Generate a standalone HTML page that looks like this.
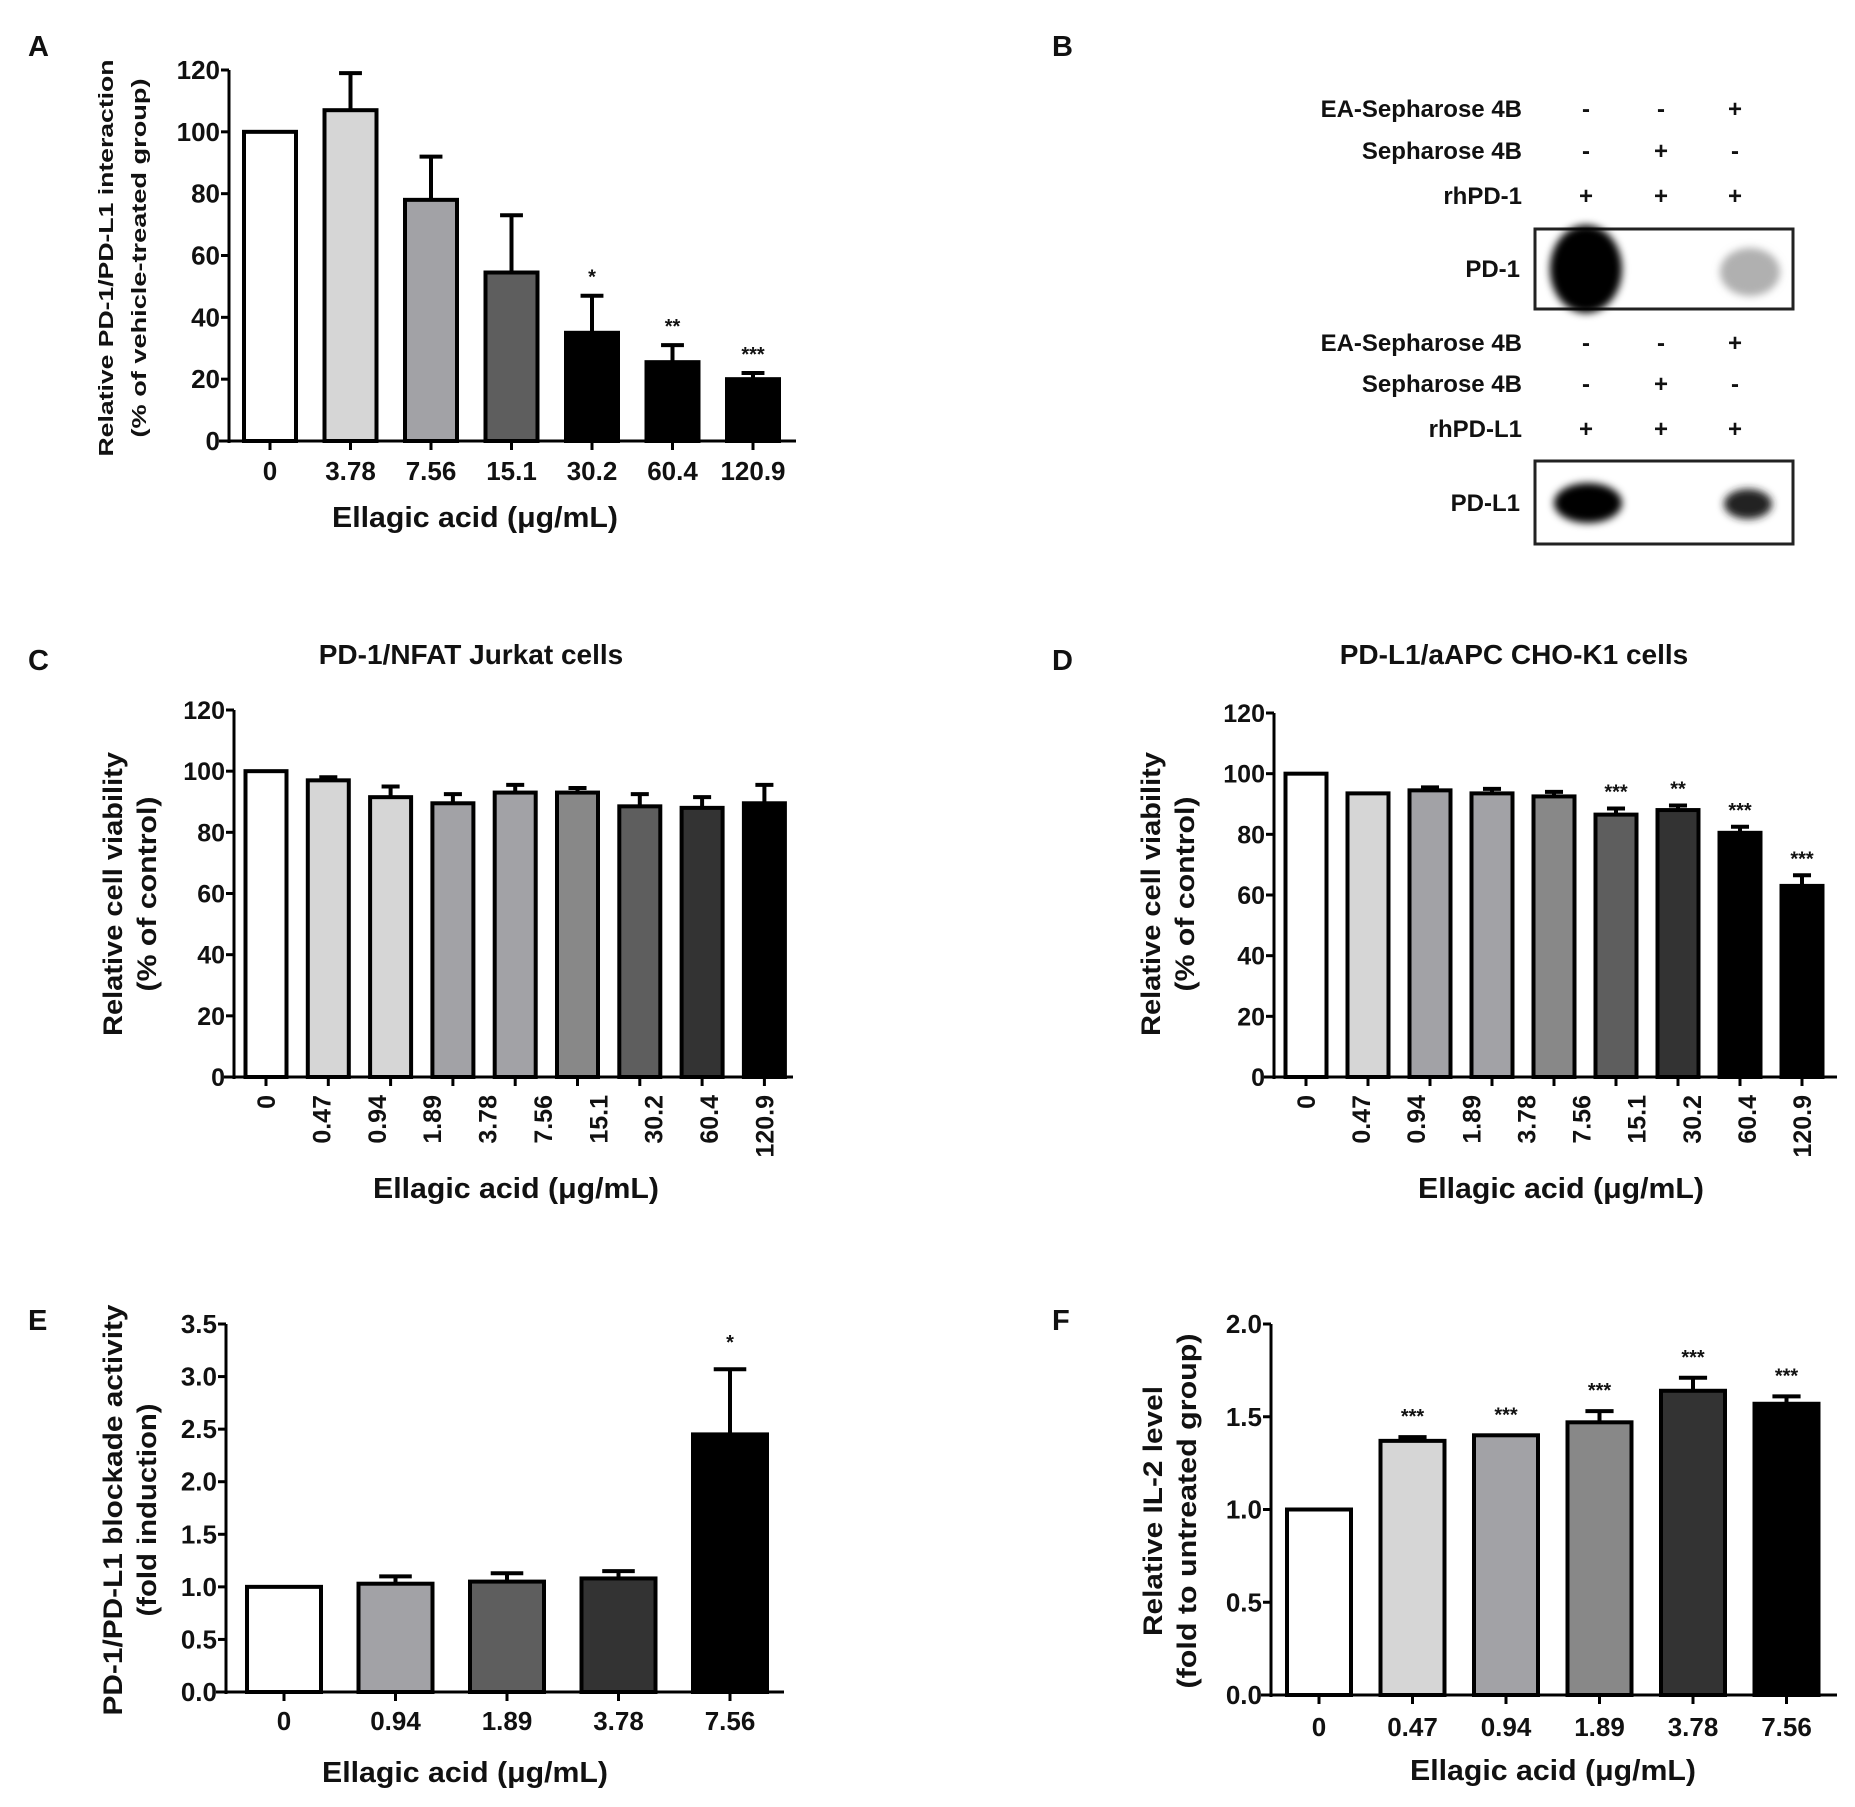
<!DOCTYPE html>
<html><head><meta charset="utf-8"><style>
html,body{margin:0;padding:0;background:#fff}
svg{display:block}
text{font-family:"Liberation Sans",Arial,sans-serif;font-weight:bold;fill:#111}
</style></head><body>
<svg id="fig" width="1855" height="1807" viewBox="0 0 1855 1807" xmlns="http://www.w3.org/2000/svg">
<defs><filter id="blur" x="-30%" y="-30%" width="160%" height="160%"><feGaussianBlur stdDeviation="4"/></filter></defs>
<g font-size="29">
<text x="28" y="56">A</text>
<text x="1052" y="56">B</text>
<text x="28" y="670">C</text>
<text x="1052" y="670">D</text>
<text x="28" y="1330">E</text>
<text x="1052" y="1330">F</text>
</g>
<g id="blotB" font-size="24">
<g text-anchor="end">
<text x="1522" y="117">EA-Sepharose 4B</text>
<text x="1522" y="159">Sepharose 4B</text>
<text x="1522" y="204">rhPD-1</text>
<text x="1520" y="277">PD-1</text>
<text x="1522" y="351">EA-Sepharose 4B</text>
<text x="1522" y="392">Sepharose 4B</text>
<text x="1522" y="437">rhPD-L1</text>
<text x="1520" y="511">PD-L1</text>
</g>
<g text-anchor="middle" font-size="24">
<text x="1586" y="117">-</text><text x="1661" y="117">-</text><text x="1735" y="117">+</text>
<text x="1586" y="159">-</text><text x="1661" y="159">+</text><text x="1735" y="159">-</text>
<text x="1586" y="204">+</text><text x="1661" y="204">+</text><text x="1735" y="204">+</text>
<text x="1586" y="351">-</text><text x="1661" y="351">-</text><text x="1735" y="351">+</text>
<text x="1586" y="392">-</text><text x="1661" y="392">+</text><text x="1735" y="392">-</text>
<text x="1586" y="437">+</text><text x="1661" y="437">+</text><text x="1735" y="437">+</text>
</g>
<rect x="1535" y="229" width="258" height="80" fill="#fff" stroke="#222" stroke-width="3"/>
<ellipse cx="1586" cy="269" rx="36" ry="44" fill="#000" filter="url(#blur)"/>
<ellipse cx="1750" cy="272" rx="30" ry="24" fill="#b0b0b0" filter="url(#blur)"/>
<rect x="1535" y="461" width="258" height="83" fill="#fff" stroke="#222" stroke-width="3"/>
<ellipse cx="1588" cy="503" rx="34" ry="20" fill="#000" filter="url(#blur)"/>
<ellipse cx="1748" cy="504" rx="24" ry="15" fill="#222" filter="url(#blur)"/>
</g>
</svg>
<script>
// Panel A data
const aCats=["0","3.78","7.56","15.1","30.2","60.4","120.9"];
const aVals=[100,107,78,54.5,35,25.5,20];
const aErr=[0,12,14,18.5,12,5.5,2];
const aSig=["","","","","*","**","***"];
// Panel C data
const cCats=["0","0.47","0.94","1.89","3.78","7.56","15.1","30.2","60.4","120.9"];
const cVals=[100,97,91.5,89.5,93,93,88.5,88,89.5];
const cErr=[0,1,3.5,3,2.5,1.5,4,3.5,6];
// Panel D data
const dCats=["0","0.47","0.94","1.89","3.78","7.56","15.1","30.2","60.4","120.9"];
const dVals=[100,93.5,94.5,93.5,92.5,86.5,88,80.5,63];
const dErr=[0,0,1,1.5,1.5,2,1.5,2,3.5];
const dSig=["","","","","","***","**","***","***"];
// Panel E data
const eCats=["0","0.94","1.89","3.78","7.56"];
const eVals=[1.0,1.03,1.05,1.08,2.45];
const eErr=[0,0.07,0.08,0.07,0.62];
const eSig=["","","","","*"];
// Panel F data
const fCats=["0","0.47","0.94","1.89","3.78","7.56"];
const fVals=[1.0,1.37,1.40,1.47,1.64,1.57];
const fErr=[0,0.02,0,0.06,0.07,0.04];
const fSig=["","***","***","***","***","***"];
const yTicksA=[0,20,40,60,80,100,120];
const yTicksCD=[0,20,40,60,80,100,120];
const yTicksE=["0.0","0.5","1.0","1.5","2.0","2.5","3.0","3.5"];
const yTicksF=["0.0","0.5","1.0","1.5","2.0"];

const NS="http://www.w3.org/2000/svg";
const svg=document.getElementById('fig');
function mk(tag,attrs,parent,txt){const e=document.createElementNS(NS,tag);for(const k in attrs)e.setAttribute(k,attrs[k]);if(txt!==undefined)e.textContent=txt;(parent||svg).appendChild(e);return e;}

function chart(o){
  const g=mk('g',{});
  
  
  const ymax=o.ymax;
  const Y=v=>o.y0-(v/ymax)*(o.y0-o.yTop);
  const X=i=>o.firstCx+i*o.pitch;
  const n=o.vals.length;
  o.vals.forEach((v,i)=>{
    const cx=X(i),bw=o.bw;
    const err=o.err[i];
    if(err>0){
      const eb=mk('line',{x1:cx,x2:cx,y1:Y(v),y2:Y(v+err),stroke:'#000','stroke-width':4},g);
      
      
      const cap=mk('line',{x1:cx-bw*0.22,x2:cx+bw*0.22,y1:Y(v+err),y2:Y(v+err),stroke:'#000','stroke-width':4},g);
      
      
    }
    const r=mk('rect',{x:cx-bw/2,y:Y(v),width:bw,height:o.y0-Y(v),fill:o.colors[i],stroke:'#000','stroke-width':4},g);
    
    
    if(o.sig&&o.sig[i]){
      const s=mk('text',{x:cx,y:Y(v+err)-o.sigGap,'text-anchor':'middle','font-size':20},g,o.sig[i]);
      
      
    }
    mk('line',{x1:cx,x2:cx,y1:o.y0,y2:o.y0+9,stroke:'#000','stroke-width':3},g);
  });
  const ya=mk('line',{x1:o.ax,x2:o.ax,y1:o.y0+2,y2:o.yTop,stroke:'#000','stroke-width':3},g);
  
  
  const xa=mk('line',{x1:o.ax-10,x2:o.axEnd,y1:o.y0,y2:o.y0,stroke:'#000','stroke-width':3},g);
  
  
  o.ticks.forEach(t=>{
    const v=parseFloat(t);
    mk('line',{x1:o.ax-8,x2:o.ax,y1:Y(v),y2:Y(v),stroke:'#000','stroke-width':3},g);
    const tl=mk('text',{x:o.ax-9,y:Y(v)+9,'text-anchor':'end','font-size':o.tfs},g,String(t));
    
    
  });
  const lp=o.cats.length>1?(n-1)*o.pitch/(o.cats.length-1):0;
  o.cats.forEach((c,i)=>{
    const cx=o.firstCx+i*lp;
    let tl;
    if(o.rot){
      tl=mk('text',{x:cx+9,y:o.y0+18,'text-anchor':'end','font-size':o.tfs,transform:`rotate(-90 ${cx+9} ${o.y0+18})`},g,c);
    } else {
      tl=mk('text',{x:cx,y:o.tickY,'text-anchor':'middle','font-size':o.tfs},g,c);
    }
    
    
  });
  const xt=mk('text',{x:o.xtX,y:o.xtY,'text-anchor':'middle','font-size':29,textLength:286,lengthAdjust:'spacingAndGlyphs'},g,'Ellagic acid (μg/mL)');
  
  
  o.ytitle.forEach((line,k)=>{
    const x=o.ytX[k],y=o.ytY;
    const t=mk('text',{x:x,y:y,'text-anchor':'middle','font-size':o.yfs,textLength:o.ytL[k],lengthAdjust:'spacingAndGlyphs',transform:`rotate(-90 ${x} ${y})`},g,line);
    
    
  });
  if(o.title){
    const t=mk('text',{x:o.title[1],y:o.title[2],'text-anchor':'middle','font-size':28},g,o.title[0]);
    
    
  }
}
const W='#ffffff',L1='#d6d6d6',L2='#a2a2a6',M='#888888',D1='#5e5e5e',D2='#333333',K='#000000';
chart({name:'chart-a',cats:aCats,vals:aVals,err:aErr,sig:aSig,ticks:yTicksA,ymax:120,
  ax:229,axEnd:796,y0:441,yTop:70,firstCx:270,pitch:80.5,bw:52,
  colors:[W,L1,L2,D1,K,K,K],tfs:26,tickY:480,xtX:475,xtY:527,sigGap:12,
  ytitle:['Relative PD-1/PD-L1 interaction','(% of vehicle-treated group)'],ytX:[113,146],ytY:258,yfs:20,ytL:[397,359]});
chart({name:'chart-c',cats:cCats,vals:cVals,err:cErr,sig:null,ticks:yTicksCD,ymax:120,
  ax:234,axEnd:793,y0:1077,yTop:710,firstCx:266,pitch:62.3,bw:41,rot:true,
  colors:[W,L1,L1,L2,L2,M,D1,D2,K],tfs:25,xtX:516,xtY:1198,
  ytitle:['Relative cell viability','(% of control)'],ytX:[122,156],ytY:894,yfs:27,ytL:[284,195],
  title:['PD-1/NFAT Jurkat cells',471,664]});
chart({name:'chart-d',cats:dCats,vals:dVals,err:dErr,sig:dSig,ticks:yTicksCD,ymax:120,
  ax:1274,axEnd:1837,y0:1077,yTop:713,firstCx:1306,pitch:62,bw:41,rot:true,sigGap:10,
  colors:[W,L1,L2,L2,M,D1,D2,K,K],tfs:25,xtX:1561,xtY:1198,
  ytitle:['Relative cell viability','(% of control)'],ytX:[1160,1194],ytY:894,yfs:27,ytL:[284,195],
  title:['PD-L1/aAPC CHO-K1 cells',1514,664]});
chart({name:'chart-e',cats:eCats,vals:eVals,err:eErr,sig:eSig,ticks:yTicksE,ymax:3.5,
  ax:226,axEnd:784,y0:1692,yTop:1324,firstCx:284,pitch:111.5,bw:74,
  colors:[W,L2,D1,D2,K],tfs:26,tickY:1730,xtX:465,xtY:1782,sigGap:20,
  ytitle:['PD-1/PD-L1 blockade activity','(fold induction)'],ytX:[122,156],ytY:1510,yfs:27,ytL:[411,213]});
chart({name:'chart-f',cats:fCats,vals:fVals,err:fErr,sig:fSig,ticks:yTicksF,ymax:2.0,
  ax:1271,axEnd:1837,y0:1695,yTop:1324,firstCx:1319,pitch:93.5,bw:64,
  colors:[W,L1,L2,M,D2,K],tfs:26,tickY:1736,xtX:1553,xtY:1780,sigGap:14,
  ytitle:['Relative IL-2 level','(fold to untreated group)'],ytX:[1162,1196],ytY:1511,yfs:27,ytL:[250,355]});
</script>
</body></html>
